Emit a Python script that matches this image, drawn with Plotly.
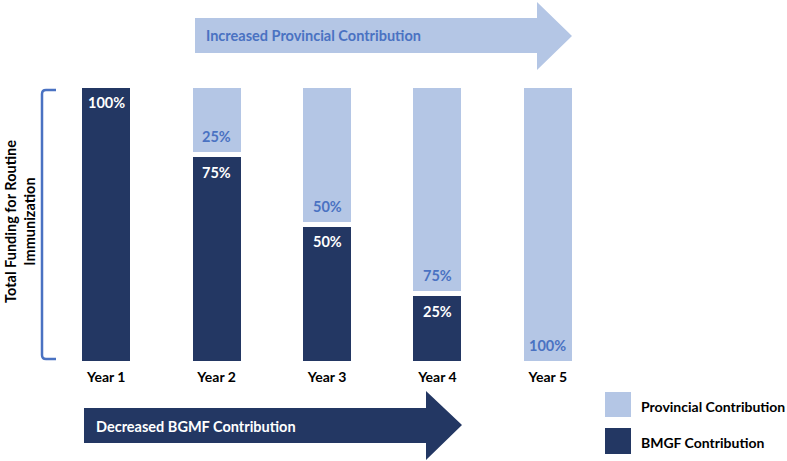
import plotly.graph_objects as go

years = ["Year 1", "Year 2", "Year 3", "Year 4", "Year 5"]
bmgf = [100, 75, 50, 25, 0]
provincial = [0, 25, 50, 75, 100]

DARK = "#233763"
LIGHT = "#B4C6E5"
BLUE = "#4A72C2"
FONT = "Lato"

W, H = 787, 461
L, R, T, B = 51, 184, 85, 98
PW, PH = W - L - R, H - T - B


def px(x):
    return (x - L) / PW


def py(y):
    return (H - B - y) / PH


fig = go.Figure()
fig.add_trace(go.Bar(
    x=years, y=bmgf, name="BMGF Contribution",
    marker=dict(color=DARK, line=dict(color="white", width=5)),
    width=0.48, hoverinfo="x+y+name",
))
fig.add_trace(go.Bar(
    x=years, y=provincial, name="Provincial Contribution",
    marker=dict(color=LIGHT, line=dict(color="white", width=5)),
    width=0.48, hoverinfo="x+y+name",
))

annotations = []
for yr, b, p in zip(years, bmgf, provincial):
    if b:
        annotations.append(dict(x=yr, y=b, xref="x", yref="y", yanchor="middle",
                                yshift=-17.5, text=f"<b>{b}%</b>", showarrow=False,
                                font=dict(family=FONT, size=14.5, color="white")))
    if p:
        annotations.append(dict(x=yr, y=b, xref="x", yref="y", yanchor="middle",
                                yshift=18, text=f"<b>{p}%</b>", showarrow=False,
                                font=dict(family=FONT, size=14.5, color=BLUE)))

shapes = []
top_arrow = [(195, 18), (537, 18), (537, 2), (572, 36), (537, 70), (537, 53), (195, 53)]
bot_arrow = [(84, 408), (426, 408), (426, 391), (462, 425), (426, 460), (426, 443), (84, 443)]


def path(pts):
    return "M " + " L ".join(f"{px(a):.5f},{py(b):.5f}" for a, b in pts) + " Z"


shapes.append(dict(type="path", xref="paper", yref="paper", path=path(top_arrow),
                   fillcolor=LIGHT, line=dict(width=0), layer="below"))
shapes.append(dict(type="path", xref="paper", yref="paper", path=path(bot_arrow),
                   fillcolor=DARK, line=dict(width=0), layer="below"))

r = 4
bracket = (f"M {px(56):.5f},{py(90):.5f} L {px(42 + r):.5f},{py(90):.5f} "
           f"Q {px(42):.5f},{py(90):.5f} {px(42):.5f},{py(90 + r):.5f} "
           f"L {px(42):.5f},{py(359 - r):.5f} "
           f"Q {px(42):.5f},{py(359):.5f} {px(42 + r):.5f},{py(359):.5f} "
           f"L {px(56):.5f},{py(359):.5f}")
shapes.append(dict(type="path", xref="paper", yref="paper", path=bracket,
                   line=dict(color=BLUE, width=2.5)))

shapes.append(dict(type="rect", xref="paper", yref="paper",
                   x0=px(605), x1=px(631), y0=py(392), y1=py(417),
                   fillcolor=LIGHT, line=dict(width=0)))
shapes.append(dict(type="rect", xref="paper", yref="paper",
                   x0=px(605), x1=px(631), y0=py(428), y1=py(454),
                   fillcolor=DARK, line=dict(width=0)))

annotations += [
    dict(x=px(204), y=py(36), xref="paper", yref="paper", xanchor="left", yanchor="middle",
         text="<b>Increased Provincial Contribution</b>", showarrow=False,
         font=dict(family=FONT, size=14.5, color=BLUE)),
    dict(x=px(94), y=py(426), xref="paper", yref="paper", xanchor="left", yanchor="middle",
         text="<b>Decreased BGMF Contribution</b>", showarrow=False,
         font=dict(family=FONT, size=14.5, color="white")),
    dict(x=px(639), y=py(406), xref="paper", yref="paper", xanchor="left", yanchor="middle",
         text="<b>Provincial Contribution</b>", showarrow=False,
         font=dict(family=FONT, size=14, color="black")),
    dict(x=px(639), y=py(442), xref="paper", yref="paper", xanchor="left", yanchor="middle",
         text="<b>BMGF Contribution</b>", showarrow=False,
         font=dict(family=FONT, size=14, color="black")),
    dict(x=px(20), y=py(222), xref="paper", yref="paper", xanchor="center", yanchor="middle",
         text="<b>Total Funding for Routine<br>Immunization</b>", showarrow=False, textangle=-90,
         font=dict(family=FONT, size=14.5, color="black")),
]

fig.update_layout(
    width=W, height=H,
    margin=dict(l=L, r=R, t=T, b=B, pad=0),
    barmode="stack",
    showlegend=False,
    plot_bgcolor="white", paper_bgcolor="white",
    shapes=shapes, annotations=annotations,
    xaxis=dict(showgrid=False, zeroline=False, showline=False, ticks="",
               tickfont=dict(family=FONT, size=14, color="black", weight="bold"),
               ticklabelstandoff=4, range=[-0.5, 4.5]),
    yaxis=dict(visible=False, range=[0, 100]),
)

fig.write_html("out.html", config={"displayModeBar": False},
               post_script="document.body.style.margin='0';")
